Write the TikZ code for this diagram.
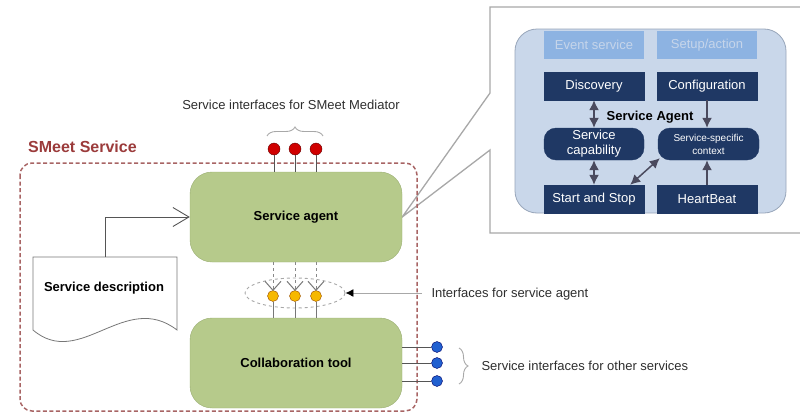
\documentclass[tikz,border=0pt]{standalone}
\usepackage{fontspec}
\setmainfont{Liberation Sans}
\usetikzlibrary{arrows.meta,decorations.pathreplacing,shapes.geometric,calc,backgrounds}

\definecolor{agentgreen}{HTML}{B6CA8B}
\definecolor{greenedge}{HTML}{9AAE72}
\definecolor{smeetred}{HTML}{9B3B3B}
\definecolor{dashred}{HTML}{A86464}
\definecolor{navy}{HTML}{1F3864}
\definecolor{paleblue}{HTML}{C9D7EA}
\definecolor{paleedge}{HTML}{98A6BA}
\definecolor{midblue}{HTML}{8DB3E2}
\definecolor{fadetext}{HTML}{C6D5EA}
\definecolor{arrowgray}{HTML}{4A4A5E}
\definecolor{labelgray}{HTML}{2E2E2E}
\definecolor{framegray}{HTML}{A8A8A8}
\definecolor{stemgray}{HTML}{555555}
\definecolor{pinred}{HTML}{D00000}
\definecolor{pinyellow}{HTML}{F6B800}
\definecolor{pinblue}{HTML}{2160D0}

\tikzset{
  txt/.style={font=\fontsize{13}{15}\selectfont},
  boldtxt/.style={font=\fontsize{13}{15}\selectfont\bfseries},
  greenbox/.style={draw=greenedge, fill=agentgreen, rounded corners=22pt,
    minimum width=212pt, minimum height=90pt, boldtxt},
  navybox/.style={draw=navy, fill=navy, text=white, minimum width=100pt,
    minimum height=28pt, inner sep=0pt, txt},
  lightbox/.style={fill=midblue, text=fadetext, minimum width=100pt,
    minimum height=28pt, inner sep=0pt, txt},
  capbox/.style={navybox, rounded corners=12pt, minimum height=32pt, align=center},
  redpin/.style={circle, draw=red!40!black, fill=pinred, inner sep=0pt, minimum size=12pt},
  yellowpin/.style={circle, draw=orange!60!black, fill=pinyellow, inner sep=0pt, minimum size=11pt},
  bluepin/.style={circle, draw=blue!40!black, fill=pinblue, inner sep=0pt, minimum size=11pt},
  lbl/.style={txt, text=labelgray},
  inarrow/.style={draw=arrowgray, line width=1.5pt, {Latex[length=10pt,width=10pt]}-{Latex[length=10pt,width=10pt]}},
  onearrow/.style={draw=arrowgray, line width=1.5pt, -{Latex[length=10pt,width=10pt]}},
  bracegray/.style={draw=framegray, line width=0.9pt},
}

\begin{document}
\begin{tikzpicture}[x=1pt,y=-1pt]
\useasboundingbox (0,0) rectangle (800,415);

% component boxes of the SMeet service
\node[greenbox] (agent) at (296,217) {Service agent};
\node[greenbox] (coll) at (296,363) {Collaboration tool};

% magnified view of the service agent
\begin{scope}[on background layer]
\draw[framegray, line width=1.3pt, fill=white]
  (806,7) -- (490,7) -- (490,93) -- (agent.east) -- (490,150) -- (490,233) -- (806,233);
\end{scope}

\draw[paleedge, fill=paleblue, line width=0.8pt, rounded corners=22pt] (515,29) rectangle (786,213);
\node[lightbox] (event) at (594,45) {Event service};
\node[lightbox] (setup) at (707,45) {Setup/action};
\node[navybox] (disc) at (594,86) {Discovery};
\node[navybox] (conf) at (707,86) {Configuration};
\node[capbox] (cap) at (594,144) {Service\\capability};
\node[capbox, font=\fontsize{10}{13}\selectfont, minimum width=101pt] (ctx) at (708.5,144) {Service-specific\\context};
\node[navybox] (start) at (594,199) {Start and Stop};
\node[navybox] (heart) at (707,199) {HeartBeat};
\node[boldtxt] (sagent) at (650,117) {Service Agent};

\draw[inarrow] (disc.south) -- (cap.north);
\draw[inarrow] (cap.south) -- (start.north);
\draw[onearrow] (conf.south) -- (conf.south |- ctx.north);
\draw[onearrow] (heart.north) -- (heart.north |- ctx.south);
\draw[inarrow] ([xshift=-14pt]start.north east) -- ([xshift=2pt,yshift=2pt]ctx.south west);

% service boundary
\node[font=\fontsize{16}{19}\selectfont\bfseries, text=smeetred, anchor=west, inner sep=0pt] (smeet) at (28,147) {SMeet Service};
\draw[dashred, line width=1.5pt, dash pattern=on 4pt off 2.5pt, rounded corners=12pt] (20,163) rectangle (417,411);

% service description document
\coordinate (doctop) at (105,257);
\draw[stemgray!80, line width=0.8pt, fill=white]
  (33,330) -- (33,257) -- (177,257) -- (177,330)
  .. controls (125,290) and (80,370) .. (33,330) -- cycle;
\node[boldtxt] (desc) at (104,288) {Service description};
\draw[stemgray, line width=0.9pt, -{Straight Barb[length=16pt,width=19pt,line width=0.9pt]}]
  (doctop) |- (agent.west);

% mediator interfaces
\foreach \i/\x in {1/274,2/295,3/316}{
  \node[redpin] (r\i) at (\x,149) {};
  \draw[stemgray, line width=1pt] (r\i.south) -- (r\i |- agent.north);
}
\draw[bracegray, decorate, decoration={brace, amplitude=9pt}] (267,136) -- (323,136);
\node[lbl] (medlbl) at (291,105) {Service interfaces for SMeet Mediator};

% agent interfaces between the two components
\node[draw=framegray, dashed, line width=0.9pt, ellipse, minimum width=100pt, minimum height=30pt] (ring) at (295,293) {};
\foreach \i/\x in {1/273,2/295,3/316}{
  \node[yellowpin] (y\i) at (\x,296) {};
  \draw[stemgray!70, line width=1pt, dashed] (y\i |- agent.south) -- (y\i.north);
  \draw[stemgray!80, line width=1pt] (y\i.north) -- ++(-8pt,9pt);
  \draw[stemgray!80, line width=1pt] (y\i.north) -- ++(8pt,9pt);
  \draw[stemgray!80, line width=1pt] (y\i.south) -- (y\i |- coll.north);
}
\node[lbl, anchor=west] (iflbl) at (428,294) {Interfaces for service agent};
\draw[framegray, line width=0.9pt, -{Latex[length=8pt,width=8pt,black]}] ([xshift=-6pt]iflbl.west |- ring.east) -- (ring.east);

% interfaces towards other services
\foreach \i/\y in {1/347,2/363,3/381}{
  \node[bluepin] (b\i) at (437,\y) {};
  \draw[stemgray, line width=1pt] (b\i -| coll.east) -- (b\i.west);
}
\draw[bracegray, decorate, decoration={brace, amplitude=9pt}] (459,348) -- (459,384);
\node[lbl, anchor=west] (othlbl) at (478,366) {Service interfaces for other services};
\end{tikzpicture}
\end{document}
